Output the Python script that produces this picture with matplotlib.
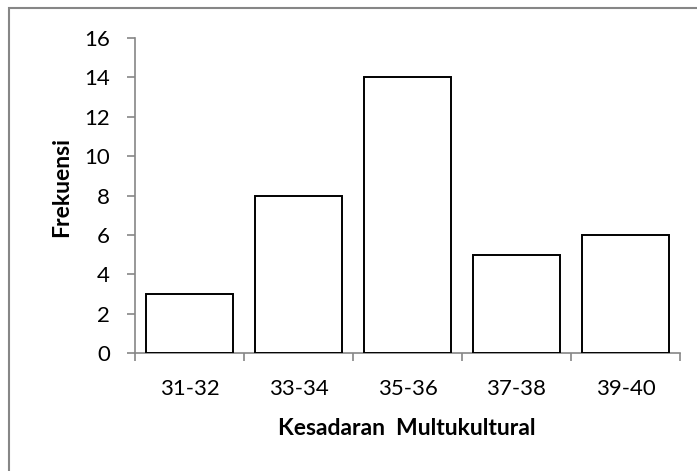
import matplotlib
matplotlib.use("Agg")
import matplotlib.pyplot as plt
from matplotlib.patches import Rectangle
import numpy as np

categories = ["31-32", "33-34", "35-36", "37-38", "39-40"]
frequencies = [3, 8, 14, 5, 6]
y_ticks = [0, 2, 4, 6, 8, 10, 12, 14, 16]

plt.rcParams['font.family'] = ['Lato', 'DejaVu Sans']

W, H = 697, 471
fig = plt.figure(figsize=(W / 100, H / 100), dpi=100)
ax = fig.add_axes([135 / W, 1 - 353 / H, (680 - 135) / W, (353 - 38) / H])

x = np.arange(len(categories))
ax.bar(x, frequencies, width=0.8, color="white", edgecolor="black", linewidth=1.4, zorder=3)

ax.set_xlim(-0.5, len(categories) - 0.5)
ax.set_ylim(0, 16)
ax.set_yticks(y_ticks)
ax.set_yticklabels([str(v) for v in y_ticks], fontsize=16)

ax.set_xticks(x)
ax.set_xticklabels(categories, fontsize=16)
ax.tick_params(axis='x', which='major', length=0, pad=19)
ax.set_xticks(np.arange(-0.5, len(categories), 1.0), minor=True)
ax.tick_params(axis='x', which='minor', length=6, width=1.2, color="#868686", direction='out')
ax.tick_params(axis='y', length=6, width=1.2, color="#868686", direction='out', pad=12)

for s in ["top", "right"]:
    ax.spines[s].set_visible(False)
for s in ["left", "bottom"]:
    ax.spines[s].set_color("#868686")
    ax.spines[s].set_linewidth(1.2)

fig.text(407 / W, 1 - 435 / H, "Kesadaran  Multukultural", ha="center", va="baseline",
         fontsize=16.5, fontweight="bold")
fig.text(68 / W, 1 - 187 / H, "Frekuensi", ha="center", va="baseline", rotation=90,
         rotation_mode="anchor", fontsize=16.5, fontweight="bold")

fig.patches.append(Rectangle((9 / W, -0.1), 1.2, (1 - 8 / H) + 0.1, transform=fig.transFigure,
                             fill=False, edgecolor="#868686", linewidth=1.5))

fig.savefig("out.png", dpi=100)
